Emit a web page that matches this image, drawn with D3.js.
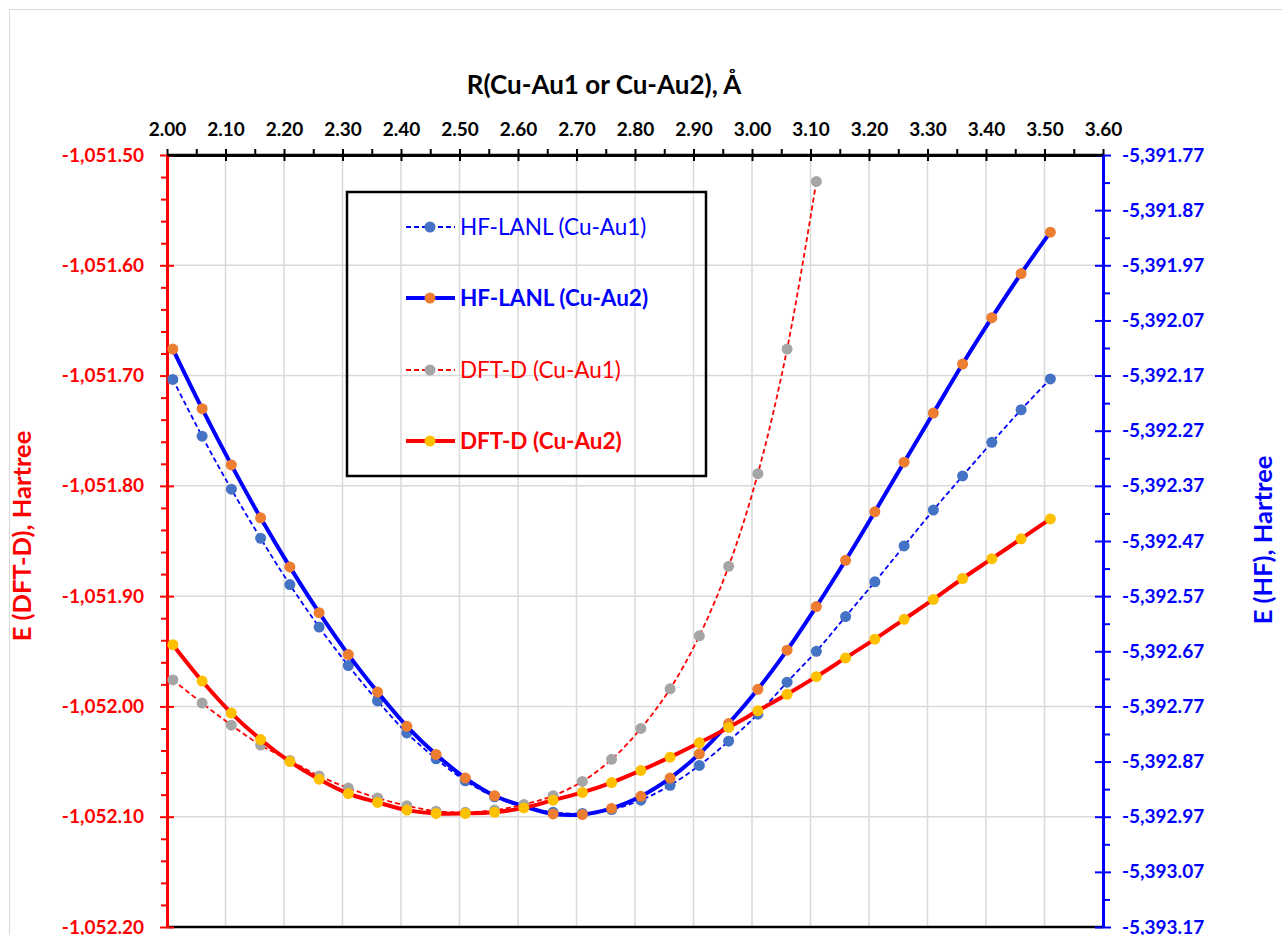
<!DOCTYPE html>
<html>
<head>
<meta charset="utf-8">
<script src="https://cdn.jsdelivr.net/npm/d3@7.9.0/dist/d3.min.js"></script>
<style>
  body { margin: 0; background: #fff; }
  svg { display: block; font-family: Lato, "Open Sans", sans-serif; }
</style>
</head>
<body>
<svg id="chart" width="1282" height="935"></svg>
<script>
// bond distance R (Å)
const rAll = [2.01, 2.06, 2.11, 2.16, 2.21, 2.26, 2.31, 2.36, 2.41, 2.46, 2.51, 2.56, 2.61, 2.66, 2.71, 2.76,
  2.81, 2.86, 2.91, 2.96, 3.01, 3.06, 3.11, 3.16, 3.21, 3.26, 3.31, 3.36, 3.41, 3.46, 3.51];
const rDftAu1 = rAll.slice(0, 23);

// HF energies (right axis)
const hfAu1 = [-5392.177, -5392.280, -5392.376, -5392.465, -5392.549, -5392.626, -5392.696, -5392.760,
  -5392.818, -5392.865, -5392.905, -5392.934, -5392.952, -5392.962, -5392.964, -5392.957, -5392.940,
  -5392.913, -5392.877, -5392.833, -5392.784, -5392.726, -5392.670, -5392.607, -5392.544, -5392.479,
  -5392.414, -5392.352, -5392.291, -5392.232, -5392.176];
const hfAu2 = [-5392.122, -5392.230, -5392.332, -5392.428, -5392.517, -5392.600, -5392.676, -5392.744,
  -5392.806, -5392.857, -5392.900, -5392.932, -5392.951, -5392.965, -5392.966, -5392.955, -5392.933,
  -5392.900, -5392.856, -5392.801, -5392.739, -5392.668, -5392.589, -5392.505, -5392.417, -5392.327,
  -5392.238, -5392.149, -5392.065, -5391.985, -5391.910];

// DFT-D energies (left axis)
const dftAu1 = [-1051.976, -1051.997, -1052.017, -1052.035, -1052.049, -1052.063, -1052.074, -1052.083,
  -1052.090, -1052.095, -1052.096, -1052.094, -1052.089, -1052.081, -1052.068, -1052.048, -1052.020,
  -1051.984, -1051.936, -1051.873, -1051.789, -1051.676, -1051.524];
const dftAu2 = [-1051.944, -1051.977, -1052.006, -1052.030, -1052.050, -1052.066, -1052.079, -1052.087,
  -1052.094, -1052.097, -1052.097, -1052.096, -1052.092, -1052.085, -1052.078, -1052.069, -1052.058,
  -1052.046, -1052.033, -1052.019, -1052.004, -1051.989, -1051.973, -1051.956, -1051.939, -1051.921,
  -1051.903, -1051.884, -1051.866, -1051.848, -1051.830];

// tick values
const xTicks = [2.00, 2.10, 2.20, 2.30, 2.40, 2.50, 2.60, 2.70, 2.80, 2.90, 3.00, 3.10, 3.20, 3.30, 3.40, 3.50, 3.60];
const xMinor = [2.05, 2.15, 2.25, 2.35, 2.45, 2.55, 2.65, 2.75, 2.85, 2.95, 3.05, 3.15, 3.25, 3.35, 3.45, 3.55];
const leftTicks = [-1051.50, -1051.60, -1051.70, -1051.80, -1051.90, -1052.00, -1052.10, -1052.20];
const rightTicks = [-5391.77, -5391.87, -5391.97, -5392.07, -5392.17, -5392.27, -5392.37, -5392.47,
  -5392.57, -5392.67, -5392.77, -5392.87, -5392.97, -5393.07, -5393.17];

const series = [
  { name: 'HF-LANL (Cu-Au1)', r: rAll, e: hfAu1, axis: 'right', line: '#0000ff', marker: '#4472c4', width: 1.8, dash: '5,3', bold: false },
  { name: 'HF-LANL (Cu-Au2)', r: rAll, e: hfAu2, axis: 'right', line: '#0000ff', marker: '#ed7d31', width: 4, dash: null, bold: true },
  { name: 'DFT-D (Cu-Au1)', r: rDftAu1, e: dftAu1, axis: 'left', line: '#ff0000', marker: '#a5a5a5', width: 1.8, dash: '5,3', bold: false },
  { name: 'DFT-D (Cu-Au2)', r: rAll, e: dftAu2, axis: 'left', line: '#ff0000', marker: '#ffc000', width: 4, dash: null, bold: true }
];

const plotL = 167, plotR = 1103, plotT = 155, plotB = 927;
const svg = d3.select('#chart');
const fmt = d3.formatLocale({ decimal: '.', thousands: ',', grouping: [3], currency: ['', ''], minus: '-' }).format(',.2f');

const x = d3.scaleLinear().domain([2.0, 3.6]).range([plotL, plotR]);
const yL = d3.scaleLinear().domain([-1052.2, -1051.5]).range([plotB, plotT]);
const yR = d3.scaleLinear().domain([-5393.17, -5391.77]).range([plotB, plotT]);

// chart frame
svg.append('rect').attr('x', 9.5).attr('y', 9.5).attr('width', 1290).attr('height', 940)
  .attr('fill', 'none').attr('stroke', '#d9d9d9');

// gridlines
const grid = svg.append('g');
grid.selectAll('.vg').data(xTicks.slice(1, -1)).join('line')
  .attr('x1', d => x(d)).attr('x2', d => x(d)).attr('y1', plotT).attr('y2', plotB)
  .attr('stroke', '#d9d9d9').attr('stroke-width', 1.5);
grid.selectAll('.hg').data(leftTicks.slice(1, -1)).join('line')
  .attr('x1', plotL).attr('x2', plotR).attr('y1', d => yL(d)).attr('y2', d => yL(d))
  .attr('stroke', '#d9d9d9').attr('stroke-width', 1.5);

// bottom line
svg.append('line').attr('x1', plotL).attr('x2', plotR).attr('y1', plotB).attr('y2', plotB)
  .attr('stroke', '#000').attr('stroke-width', 2.5);

function styleAxis(g, color, fontSize) {
  g.select('.domain').attr('stroke', color).attr('stroke-width', 3);
  g.selectAll('.tick line').attr('stroke', color).attr('stroke-width', 2);
  g.selectAll('.tick text').attr('fill', color).attr('font-size', fontSize).attr('font-weight', 700);
  g.attr('font-family', null);
}

// top axis
const gTop = svg.append('g').attr('transform', `translate(0,${plotT})`)
  .call(d3.axisTop(x).tickValues(xMinor).tickSize(6).tickFormat(''));
gTop.select('.domain').remove();
gTop.selectAll('line').attr('stroke', '#000').attr('stroke-width', 2);
const gTopMajor = svg.append('g').attr('transform', `translate(0,${plotT})`)
  .call(d3.axisTop(x).tickValues(xTicks).tickSize(6).tickSizeOuter(0).tickPadding(13).tickFormat(d3.format('.2f')));
styleAxis(gTopMajor, '#000', 19);
gTopMajor.selectAll('.tick').append('line').attr('y1', 0).attr('y2', 6).attr('stroke', '#000').attr('stroke-width', 2);

// left axis
const leftMinor = d3.range(0, 36).map(i => -1051.5 - i * 0.02).filter((d, i) => i % 5 !== 0);
const gLeftMinor = svg.append('g').attr('transform', `translate(${plotL},0)`)
  .call(d3.axisLeft(yL).tickValues(leftMinor).tickSize(6).tickFormat(''));
gLeftMinor.select('.domain').remove();
gLeftMinor.selectAll('line').attr('stroke', '#ff0000').attr('stroke-width', 2);
const gLeft = svg.append('g').attr('transform', `translate(${plotL},0)`)
  .call(d3.axisLeft(yL).tickValues(leftTicks).tickSize(7).tickSizeOuter(0).tickPadding(16).tickFormat(fmt));
styleAxis(gLeft, '#ff0000', 19);
gLeft.selectAll('.tick').append('line').attr('x1', 0).attr('x2', 7).attr('stroke', '#ff0000').attr('stroke-width', 2);

// right axis
const rightMinor = rightTicks.slice(0, -1).map(d => d - 0.05);
const gRightMinor = svg.append('g').attr('transform', `translate(${plotR},0)`)
  .call(d3.axisRight(yR).tickValues(rightMinor).tickSize(7).tickFormat(''));
gRightMinor.select('.domain').remove();
gRightMinor.selectAll('line').attr('stroke', '#0000ff').attr('stroke-width', 2);
const gRight = svg.append('g').attr('transform', `translate(${plotR},0)`)
  .call(d3.axisRight(yR).tickValues(rightTicks).tickSize(8).tickSizeOuter(0).tickPadding(11).tickFormat(fmt));
styleAxis(gRight, '#0000ff', 19);
gRight.selectAll('.tick').append('line').attr('x1', 0).attr('x2', -8).attr('stroke', '#0000ff').attr('stroke-width', 2);

// top axis line drawn over the left/right axis ends
svg.append('line').attr('x1', plotL).attr('x2', plotR).attr('y1', plotT).attr('y2', plotT)
  .attr('stroke', '#000').attr('stroke-width', 2.5);

// titles
svg.append('text').attr('x', 604).attr('y', 94).attr('text-anchor', 'middle')
  .attr('font-size', 26).attr('font-weight', 700).attr('fill', '#000')
  .text('R(Cu-Au1 or Cu-Au2), Å');
svg.append('text').attr('transform', 'translate(31,536) rotate(-90)').attr('text-anchor', 'middle')
  .attr('font-size', 25.5).attr('font-weight', 700).attr('fill', '#ff0000')
  .text('E (DFT-D), Hartree');
svg.append('text').attr('transform', 'translate(1272,540) rotate(-90)').attr('text-anchor', 'middle')
  .attr('font-size', 25.5).attr('font-weight', 700).attr('fill', '#0000ff')
  .text('E (HF), Hartree');

// series
const plot = svg.append('g');
series.forEach(s => {
  const y = s.axis === 'left' ? yL : yR;
  const pts = s.r.map((r, i) => [r, s.e[i]]);
  const line = d3.line().x(d => x(d[0])).y(d => y(d[1])).curve(d3.curveCatmullRom.alpha(0.5));
  const g = plot.append('g');
  g.append('path').attr('d', line(pts)).attr('fill', 'none')
    .attr('stroke', s.line).attr('stroke-width', s.width)
    .attr('stroke-dasharray', s.dash);
  g.selectAll('circle').data(pts).join('circle')
    .attr('cx', d => x(d[0])).attr('cy', d => y(d[1])).attr('r', 5.5)
    .attr('fill', s.marker);
});

// legend
const legend = svg.append('g');
legend.append('rect').attr('x', 347).attr('y', 192).attr('width', 359).attr('height', 284)
  .attr('fill', 'none').attr('stroke', '#000').attr('stroke-width', 2.5);
const rowsY = [227, 298, 370, 441];
series.forEach((s, i) => {
  const row = legend.append('g').attr('transform', `translate(0,${rowsY[i]})`);
  row.append('line').attr('x1', 406).attr('x2', 455).attr('y1', 0).attr('y2', 0)
    .attr('stroke', s.line).attr('stroke-width', s.width).attr('stroke-dasharray', s.dash);
  row.append('circle').attr('cx', 430).attr('cy', 0).attr('r', 5.5).attr('fill', s.marker);
  row.append('text').attr('x', 460).attr('y', 0).attr('dy', '0.35em')
    .attr('font-size', 22.5).attr('font-weight', s.bold ? 700 : 400)
    .attr('fill', s.line).text(s.name);
});
</script>
</body>
</html>
